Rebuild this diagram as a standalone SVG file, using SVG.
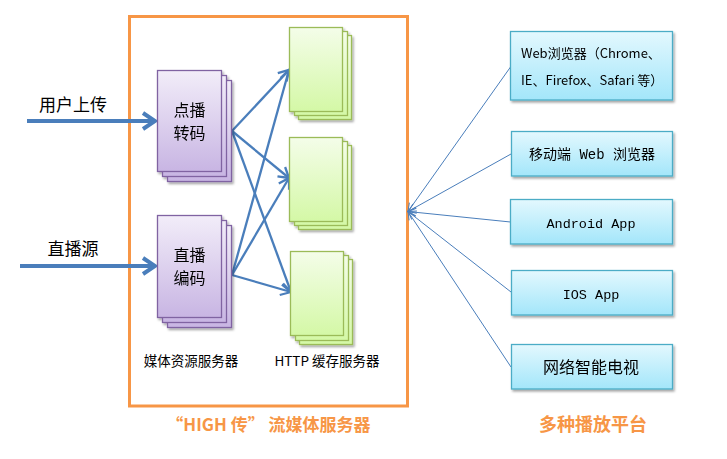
<svg xmlns="http://www.w3.org/2000/svg" width="727" height="459" viewBox="0 0 727 459">
<style>
.pur{fill:url(#gp);stroke:#8064a2;stroke-width:1.3}
.grn{fill:url(#gg);stroke:#9bbb59;stroke-width:1.3}
.blu{fill:url(#gb);stroke:#4bacc6;stroke-width:1.3}
.cn{font-family:"Noto Sans CJK SC","Liberation Sans",sans-serif;fill:#000}
.mono{font-family:"Liberation Mono","Noto Sans CJK SC",monospace;fill:#000}
.ttl{font-family:"Noto Sans CJK SC","Liberation Sans",sans-serif;font-weight:bold;fill:#f79646;font-size:17px}
.a{stroke:#4a7ebb;stroke-width:2.3;fill:none}
.t{stroke:#4a7ebb;stroke-width:1;fill:none}
</style>
<defs>
<linearGradient id="gp" x1="0" y1="0" x2="0" y2="1"><stop offset="0" stop-color="#f2edf9"/><stop offset="1" stop-color="#c8b5e3"/></linearGradient>
<linearGradient id="gg" x1="0" y1="0" x2="0" y2="1"><stop offset="0" stop-color="#f4fde9"/><stop offset="1" stop-color="#d4f8a6"/></linearGradient>
<linearGradient id="gb" x1="0" y1="0" x2="0" y2="1"><stop offset="0" stop-color="#e3f8fe"/><stop offset="1" stop-color="#a3e6fa"/></linearGradient>
<filter id="sh" x="-20%" y="-20%" width="140%" height="140%"><feDropShadow dx="1.5" dy="2" stdDeviation="1.2" flood-color="#000" flood-opacity="0.35"/></filter>
<marker id="ma" viewBox="-12 -8 14 16" refX="0" refY="0" markerWidth="14" markerHeight="16" markerUnits="userSpaceOnUse" orient="auto"><path d="M-10,-6 L0,0 L-10,6" fill="none" stroke="#4a7ebb" stroke-width="2.3"/></marker>
<marker id="mb" viewBox="-16 -10 18 20" refX="0" refY="0" markerWidth="18" markerHeight="20" markerUnits="userSpaceOnUse" orient="auto"><path d="M-12,-8 L0,0 L-12,8" fill="none" stroke="#4a7ebb" stroke-width="4"/></marker>
<marker id="mt" viewBox="-10 -6 12 12" refX="0" refY="0" markerWidth="12" markerHeight="12" markerUnits="userSpaceOnUse" orient="auto"><path d="M-8,-4 L0,0 L-8,4" fill="none" stroke="#4a7ebb" stroke-width="1"/></marker>
</defs>
<rect width="727" height="459" fill="#fff"/>

<g id="server-frame">
<rect x="129.5" y="16.5" width="278" height="389.5" fill="none" stroke="#f79646" stroke-width="3"/>
<text class="ttl" x="268.5" y="430.5" text-anchor="middle">“HIGH 传” 流媒体服务器</text>
</g>

<g id="connectors">
<line class="a" x1="27" y1="121" x2="155" y2="121" marker-end="url(#mb)" style="stroke-width:4"/>
<line class="a" x1="20" y1="266" x2="155" y2="266" marker-end="url(#mb)" style="stroke-width:4"/>
<line class="a" x1="232" y1="131" x2="289" y2="70" marker-end="url(#ma)"/>
<line class="a" x1="232" y1="131" x2="289" y2="178" marker-end="url(#ma)"/>
<line class="a" x1="232" y1="131" x2="291" y2="292" marker-end="url(#ma)"/>
<line class="a" x1="232" y1="275" x2="289" y2="70" marker-end="url(#ma)"/>
<line class="a" x1="232" y1="275" x2="289" y2="178" marker-end="url(#ma)"/>
<line class="a" x1="232" y1="275" x2="291" y2="292" marker-end="url(#ma)"/>
<line class="t" x1="510.5" y1="67" x2="408" y2="211.5" marker-end="url(#mt)"/>
<line class="t" x1="511" y1="154" x2="408" y2="211.5" marker-end="url(#mt)"/>
<line class="t" x1="510.5" y1="222" x2="408" y2="211.5" marker-end="url(#mt)"/>
<line class="t" x1="511" y1="292" x2="408" y2="211.5" marker-end="url(#mt)"/>
<line class="t" x1="511" y1="367" x2="408" y2="211.5" marker-end="url(#mt)"/>
</g>

<g id="label-upload"><text class="cn" x="73" y="111" font-size="17" text-anchor="middle">用户上传</text></g>
<g id="label-live"><text class="cn" x="73" y="255" font-size="17" text-anchor="middle">直播源</text></g>

<g id="vod-transcode" filter="url(#sh)">
<rect class="pur" x="167.5" y="80.5" width="64" height="101"/>
<rect class="pur" x="162.5" y="75.5" width="64" height="101"/>
<rect class="pur" x="157.5" y="70.5" width="64" height="101"/>
<text class="cn" font-size="16" text-anchor="middle"><tspan x="189.5" y="115.5">点播</tspan><tspan x="189.5" y="139">转码</tspan></text>
</g>

<g id="live-encode" filter="url(#sh)">
<rect class="pur" x="167.5" y="225.5" width="64" height="102"/>
<rect class="pur" x="162.5" y="220.5" width="64" height="102"/>
<rect class="pur" x="157.5" y="215.5" width="64" height="102"/>
<text class="cn" font-size="16" text-anchor="middle"><tspan x="189.5" y="260.5">直播</tspan><tspan x="189.5" y="284">编码</tspan></text>
</g>

<g id="cache-1" filter="url(#sh)">
<rect class="grn" x="298.5" y="35.5" width="53" height="84"/>
<rect class="grn" x="294.5" y="31.5" width="53" height="84"/>
<rect class="grn" x="289.5" y="27.5" width="53" height="84"/>
</g>
<g id="cache-2" filter="url(#sh)">
<rect class="grn" x="298.5" y="145.5" width="53" height="84"/>
<rect class="grn" x="294.5" y="141.5" width="53" height="84"/>
<rect class="grn" x="289.5" y="137.5" width="53" height="84"/>
</g>
<g id="cache-3" filter="url(#sh)">
<rect class="grn" x="299.5" y="259.5" width="53" height="85"/>
<rect class="grn" x="295.5" y="255.5" width="53" height="85"/>
<rect class="grn" x="290.5" y="251.5" width="53" height="84"/>
</g>

<g id="label-media"><text class="cn" x="191" y="366" font-size="13.5" text-anchor="middle">媒体资源服务器</text></g>
<g id="label-http"><text class="cn" x="327" y="366" font-size="13.5" text-anchor="middle">HTTP 缓存服务器</text></g>

<g id="web-browser" filter="url(#sh)">
<rect class="blu" x="510.5" y="31.5" width="162" height="68.5"/>
<text class="cn" x="521" y="58" font-size="13">Web浏览器（Chrome、</text>
<text class="cn" x="521" y="85" font-size="13">IE、Firefox、Safari 等）</text>
</g>
<g id="mobile-web" filter="url(#sh)">
<rect class="blu" x="511.5" y="131.5" width="161" height="44.5"/>
<text class="mono" x="592" y="159" font-size="14" text-anchor="middle">移动端 Web 浏览器</text>
</g>
<g id="android-app" filter="url(#sh)">
<rect class="blu" x="510.5" y="199.5" width="162" height="44.5"/>
<text class="mono" x="591" y="228" font-size="13.5" text-anchor="middle">Android App</text>
</g>
<g id="ios-app" filter="url(#sh)">
<rect class="blu" x="511.5" y="270.5" width="161" height="44.5"/>
<text class="mono" x="591" y="299" font-size="13.5" text-anchor="middle">IOS App</text>
</g>
<g id="smart-tv" filter="url(#sh)">
<rect class="blu" x="511.5" y="344.5" width="161" height="44.5"/>
<text class="cn" x="591" y="373" font-size="16" text-anchor="middle">网络智能电视</text>
</g>

<g id="platforms-title"><text class="ttl" x="593" y="431" text-anchor="middle" style="font-size:18px">多种播放平台</text></g>
</svg>
